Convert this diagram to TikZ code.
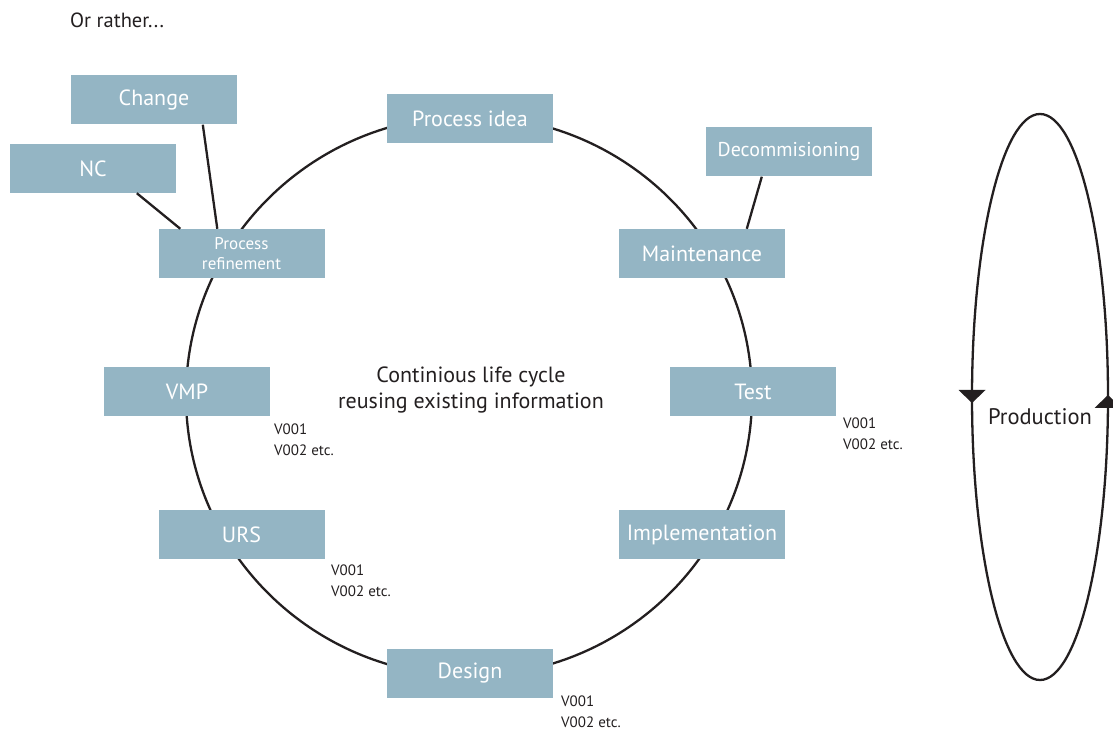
\documentclass[tikz,border=0pt]{standalone}
\usepackage{fontspec}
\setmainfont{PT Sans}
\usetikzlibrary{calc}
\definecolor{boxblue}{RGB}{148,181,196}
\definecolor{ink}{RGB}{35,31,32}
\begin{document}
\begin{tikzpicture}[x=1pt,y=1pt,
  stage/.style={fill=boxblue, minimum width=166pt, minimum height=49pt, inner sep=0pt, text=white, font=\fontsize{22}{24}\selectfont, align=center},
  smallstage/.style={stage, font=\fontsize{20}{21}\selectfont},
  conn/.style={draw=ink, line width=2.3pt},
  vnote/.style={anchor=north west, inner sep=0pt, font=\fontsize{15}{21}\selectfont, align=left, text=ink},
  plain/.style={inner sep=0pt, text=ink, font=\fontsize{22}{26}\selectfont, align=center}]
\useasboundingbox (0,0) rectangle (1113,731);
% life cycle circle
\draw[conn] (469,335) ellipse [x radius=283, y radius=280];
% stage boxes
\node[stage] (idea) at (470,612.5) {Process idea};
\node[smallstage] (decom) at (789,579) {Decommisioning};
\node[stage] (maint) at (702,477.5) {Maintenance};
\node[stage] (test) at (753,339.5) {Test};
\node[stage] (impl) at (702,196.5) {Implementation};
\node[stage] (design) at (470,57.5) {Design};
\node[stage] (urs) at (241.5,196.5) {URS};
\node[stage] (vmp) at (187,339.5) {VMP};
\node[stage, font=\fontsize{17}{20}\selectfont] (refine) at (241.5,477.5) {Process\\refinement};
\node[stage] (nc) at (93,562.5) {NC};
\node[stage] (change) at (154,631) {Change};
% connectors
\draw[conn] ($(change.south west)+(132,0)$) -- ($(refine.north west)+(59,0)$);
\draw[conn] ($(nc.south west)+(127,0)$) -- ($(refine.north west)+(22,0)$);
\draw[conn] ($(decom.south west)+(56,0)$) -- ($(maint.north west)+(128,0)$);
% version notes
\node[vnote] (vvmp) at (274,307) {V001\\V002 etc.};
\node[vnote] (vtest) at (843,313) {V001\\V002 etc.};
\node[vnote] (vurs) at (331,166) {V001\\V002 etc.};
\node[vnote] (vdesign) at (561,35) {V001\\V002 etc.};
% texts
\node[plain] (centre) at (471,341) {Continious life cycle\\reusing existing information};
\node[plain, anchor=west, font=\fontsize{20.5}{22}\selectfont] (title) at (70,711) {Or rather...};
% production loop
\draw[conn] (1040,334) ellipse [x radius=68, y radius=283];
\fill[ink] (972,328) -- (958.5,341) -- (985.5,341) -- cycle;
\fill[ink] (1108,336) -- (1094.5,323) -- (1121.5,323) -- cycle;
\node[plain, font=\fontsize{22.5}{24}\selectfont] (prod) at (1040,314) {Production};
\end{tikzpicture}
\end{document}
